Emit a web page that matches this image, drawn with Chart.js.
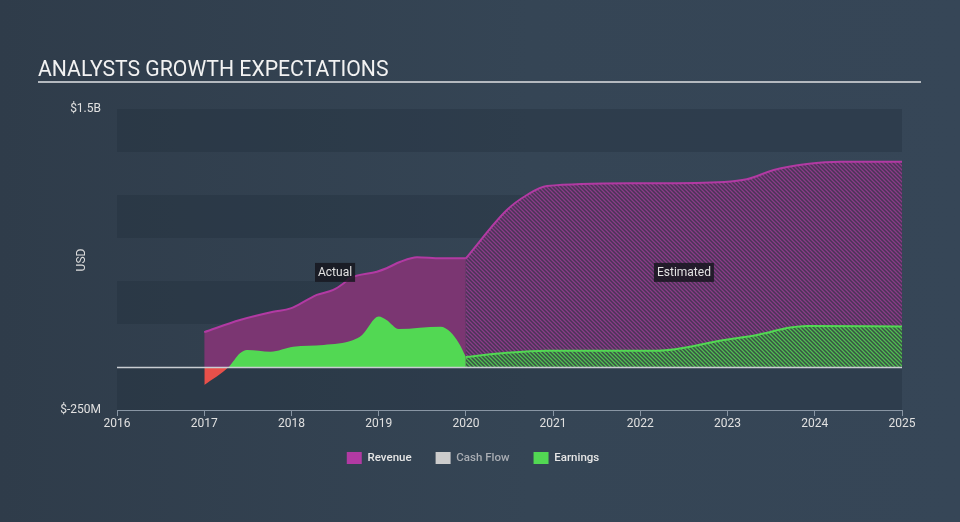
<!DOCTYPE html>
<html>
<head>
<meta charset="utf-8">
<script src="https://cdn.jsdelivr.net/npm/chart.js@4/dist/chart.umd.min.js"></script>
<style>
  html, body { margin: 0; padding: 0; }
  body { width: 960px; height: 522px; background: linear-gradient(90deg, #2f3c4a 0%, #354555 55%, #364657 100%); overflow: hidden; }
  #wrap { position: relative; width: 960px; height: 522px; }
</style>
</head>
<body>
<div id="wrap"><canvas id="chart" width="960" height="522"></canvas></div>
<script>
// years (decimal) and values in USD millions
const revenueActualYears = [2017, 2017.41, 2017.79, 2017.99, 2018.18, 2018.29, 2018.48, 2018.6, 2018.67, 2018.98, 2019.09, 2019.25, 2019.44, 2019.71, 2020];
const revenueActual = [203, 273, 321, 341, 390, 419, 448, 487, 516, 554, 574, 612, 638, 632, 632];
const revenueEstYears = [2020, 2020.47, 2020.7, 2020.93, 2022, 2022.96, 2023.22, 2023.53, 2023.91, 2024.3, 2025];
const revenueEst = [632, 913, 1000, 1052, 1068, 1076, 1091, 1145, 1180, 1194, 1194];

const earningsActualYears = [2017, 2017.28, 2017.41, 2017.49, 2017.76, 2018.02, 2018.37, 2018.71, 2018.81, 2019.0, 2019.09, 2019.23, 2019.71, 2019.82, 2019.92, 2020];
const earningsActual = [-105, 0, 80, 99, 89, 118, 128, 157, 186, 293, 273, 221, 234, 205, 138, 58];
const earningsEstYears = [2020, 2020.47, 2020.93, 2022.19, 2022.96, 2023.34, 2023.72, 2023.91, 2025];
const earningsEst = [58, 83, 95, 95, 157, 186, 229, 238, 235];

const cashFlowYears = [];
const cashFlow = [];

const legendNames = ['Revenue', 'Cash Flow', 'Earnings'];
const yTickLabels = { '1500': '$1.5B', '-250': '$-250M' };
const periodLabels = [
  { text: 'Actual', x: 2018.5, y: 550 },
  { text: 'Estimated', x: 2022.5, y: 550 }
];

const toPoints = (xs, ys) => xs.map((x, i) => ({ x: x, y: ys[i] }));

function hatch(line, bg) {
  const c = document.createElement('canvas');
  c.width = 4; c.height = 4;
  const g = c.getContext('2d');
  g.fillStyle = bg;
  g.fillRect(0, 0, 4, 4);
  g.strokeStyle = line;
  g.lineWidth = 1.3;
  g.beginPath();
  g.moveTo(-1, -1); g.lineTo(5, 5);
  g.moveTo(-1, 3); g.lineTo(1, 5);
  g.moveTo(3, -1); g.lineTo(5, 1);
  g.stroke();
  return g.createPattern(c, 'repeat');
}

const PURPLE_LINE = '#b23aa3';
const PURPLE_FILL = '#7b3672';
const GREEN = '#52d853';
const RED = '#e8504a';

const decor = {
  id: 'decor',
  beforeDatasetsDraw(chart) {
    const { ctx, chartArea: a, scales: { y } } = chart;
    ctx.save();
    ctx.fillStyle = 'rgba(30, 42, 56, 0.3)';
    for (let v = -250; v < 1500; v += 500) {
      const top = y.getPixelForValue(v + 250);
      const bot = y.getPixelForValue(v);
      ctx.fillRect(a.left, top, a.right - a.left, bot - top);
    }
    ctx.restore();
  },
  afterDatasetsDraw(chart) {
    const { ctx, chartArea: a, scales: { x, y } } = chart;
    ctx.save();
    const z = Math.round(y.getPixelForValue(0)) + 0.5;
    ctx.strokeStyle = '#c9cdd2';
    ctx.lineWidth = 1.5;
    ctx.beginPath(); ctx.moveTo(a.left, z); ctx.lineTo(a.right, z); ctx.stroke();

    ctx.font = '12px Roboto';
    ctx.textAlign = 'center';
    ctx.textBaseline = 'middle';
    periodLabels.forEach(p => {
      const px = x.getPixelForValue(p.x);
      const py = y.getPixelForValue(p.y);
      const w = ctx.measureText(p.text).width + 6;
      ctx.fillStyle = 'rgba(22, 22, 30, 0.85)';
      ctx.fillRect(px - w / 2, py - 9.5, w, 19);
      ctx.fillStyle = '#e2e2e2';
      ctx.fillText(p.text, px, py + 0.5);
    });
    ctx.restore();
  },
  afterDraw(chart) {
    const { ctx } = chart;
    ctx.save();
    ctx.fillStyle = '#f2f2f2';
    ctx.font = '21.2px Roboto';
    ctx.textBaseline = 'alphabetic';
    ctx.textAlign = 'left';
    ctx.fillText('ANALYSTS GROWTH EXPECTATIONS', 38, 76);
    ctx.fillStyle = '#b4b9bf';
    ctx.fillRect(38, 81, 883, 2);

    ctx.translate(82, 260);
    ctx.rotate(-Math.PI / 2);
    ctx.font = '12px Roboto';
    ctx.fillStyle = '#dcdcdc';
    ctx.textAlign = 'center';
    ctx.textBaseline = 'middle';
    ctx.fillText('USD', 0, 0);
    ctx.restore();
  }
};

const ctx = document.getElementById('chart').getContext('2d');

new Chart(ctx, {
  type: 'line',
  data: {
    datasets: [
      {
        label: 'Earnings estimate',
        data: toPoints(earningsEstYears, earningsEst),
        borderColor: GREEN,
        borderWidth: 2,
        backgroundColor: hatch('#4fbf50', '#3a5046'),
        fill: 'origin',
        cubicInterpolationMode: 'monotone',
        pointRadius: 0
      },
      {
        label: 'Earnings',
        data: toPoints(earningsActualYears, earningsActual),
        borderWidth: 0,
        borderColor: GREEN,
        fill: { target: 'origin', above: GREEN, below: RED },
        cubicInterpolationMode: 'monotone',
        pointRadius: 0
      },
      {
        label: 'Cash Flow',
        data: toPoints(cashFlowYears, cashFlow),
        borderColor: '#cccccc',
        pointRadius: 0
      },
      {
        label: 'Revenue estimate',
        data: toPoints(revenueEstYears, revenueEst),
        borderColor: PURPLE_LINE,
        borderWidth: 2,
        backgroundColor: hatch('#8a3b88', '#493556'),
        fill: 'origin',
        cubicInterpolationMode: 'monotone',
        pointRadius: 0
      },
      {
        label: 'Revenue',
        data: toPoints(revenueActualYears, revenueActual),
        borderColor: PURPLE_LINE,
        borderWidth: 2,
        backgroundColor: PURPLE_FILL,
        fill: 'origin',
        cubicInterpolationMode: 'monotone',
        pointRadius: 0
      }
    ]
  },
  options: {
    responsive: false,
    animation: false,
    layout: { padding: { top: 109, right: 58, left: 44, bottom: 48 } },
    plugins: {
      tooltip: { enabled: false },
      legend: {
        position: 'bottom',
        onClick: null,
        labels: {
          boxWidth: 15,
          boxHeight: 12,
          padding: 24,
          font: { family: 'Roboto', size: 11.5, weight: '500' },
          generateLabels: () => {
            const fills = [PURPLE_LINE, '#cccccc', GREEN];
            return legendNames.map((n, i) => ({
              text: n,
              fillStyle: fills[i],
              strokeStyle: fills[i],
              lineWidth: 0,
              hidden: false,
              fontColor: i === 1 ? '#a9adb3' : '#e6e6e6',
              datasetIndex: i
            }));
          }
        }
      }
    },
    scales: {
      x: {
        type: 'linear',
        min: 2016,
        max: 2025,
        afterFit: s => { s.height = 18; },
        grid: { drawOnChartArea: false, drawTicks: true, tickLength: 6, color: '#8996a4' },
        border: { color: '#8996a4', width: 1 },
        ticks: {
          stepSize: 1,
          padding: 1,
          maxRotation: 0,
          color: '#e0e0e0',
          font: { family: 'Roboto', size: 12 },
          callback: v => String(v)
        }
      },
      y: {
        min: -250,
        max: 1500,
        afterFit: s => { s.width = 73; },
        grid: { display: false, drawTicks: false },
        border: { display: false },
        ticks: {
          stepSize: 250,
          padding: 16,
          autoSkip: false,
          color: '#e0e0e0',
          font: { family: 'Roboto', size: 12 },
          callback: v => yTickLabels[String(v)] || ''
        }
      }
    }
  },
  plugins: [decor]
});
</script>
</body>
</html>
